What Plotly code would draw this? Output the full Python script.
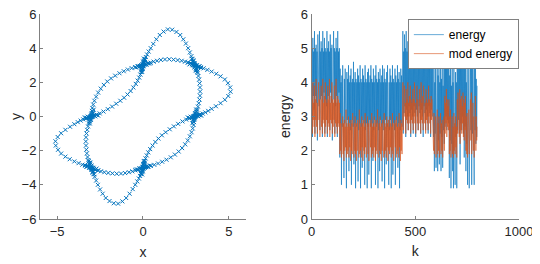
#!/usr/bin/env python3
"""Phase-plane trajectory (left) and energy vs step (right), MATLAB look."""

import plotly.graph_objects as go

BLUE = "#0072BD"
ORANGE = "#D95319"
AXIS_GREY = "#808080"
TEXT = "#262626"
FONT = "Liberation Sans, Arial, sans-serif"

# ---- left panel: trajectory points
top_lobe = [(0.0, 3.0), (0.01, 3.05), (0.03, 3.11), (0.05, 3.18), (0.08, 3.26), (0.12, 3.36),
            (0.17, 3.48), (0.24, 3.63), (0.33, 3.8), (0.45, 4.0), (0.6, 4.25), (0.78, 4.52),
            (0.98, 4.77), (1.2, 4.97), (1.45, 5.1), (1.7, 5.08), (1.95, 4.95), (2.17, 4.77),
            (2.35, 4.52), (2.5, 4.27), (2.63, 4.0), (2.73, 3.75), (2.82, 3.53), (2.88, 3.37),
            (2.93, 3.23), (2.97, 3.12), (2.99, 3.05), (3.0, 3.0)]
right_lobe = [(3.0, 0.0), (3.05, 0.01), (3.11, 0.03), (3.18, 0.05), (3.26, 0.08), (3.36, 0.12),
              (3.48, 0.17), (3.63, 0.24), (3.8, 0.33), (4.0, 0.45), (4.25, 0.6), (4.52, 0.78),
              (4.77, 0.98), (4.97, 1.2), (5.1, 1.45), (5.08, 1.7), (4.95, 1.95), (4.77, 2.17),
              (4.52, 2.35), (4.27, 2.5), (4.0, 2.63), (3.75, 2.73), (3.53, 2.82), (3.37, 2.88),
              (3.23, 2.93), (3.12, 2.97), (3.05, 2.99), (3.0, 3.0)]
bottom_lobe = [(0.0, -3.0), (-0.01, -3.05), (-0.03, -3.11), (-0.05, -3.18), (-0.08, -3.26),
               (-0.12, -3.36), (-0.17, -3.48), (-0.24, -3.63), (-0.33, -3.8), (-0.45, -4.0),
               (-0.6, -4.25), (-0.78, -4.52), (-0.98, -4.77), (-1.2, -4.97), (-1.45, -5.1),
               (-1.7, -5.08), (-1.95, -4.95), (-2.17, -4.77), (-2.35, -4.52), (-2.5, -4.27),
               (-2.63, -4.0), (-2.73, -3.75), (-2.82, -3.53), (-2.88, -3.37), (-2.93, -3.23),
               (-2.97, -3.12), (-2.99, -3.05), (-3.0, -3.0)]
left_lobe = [(-3.0, 0.0), (-3.05, -0.01), (-3.11, -0.03), (-3.18, -0.05), (-3.26, -0.08),
             (-3.36, -0.12), (-3.48, -0.17), (-3.63, -0.24), (-3.8, -0.33), (-4.0, -0.45),
             (-4.25, -0.6), (-4.52, -0.78), (-4.77, -0.98), (-4.97, -1.2), (-5.1, -1.45),
             (-5.08, -1.7), (-4.95, -1.95), (-4.77, -2.17), (-4.52, -2.35), (-4.27, -2.5),
             (-4.0, -2.63), (-3.75, -2.73), (-3.53, -2.82), (-3.37, -2.88), (-3.23, -2.93),
             (-3.12, -2.97), (-3.05, -2.99), (-3.0, -3.0)]
top_arc = [(3.0, 3.0), (2.94, 3.03), (2.86, 3.07), (2.76, 3.11), (2.62, 3.16), (2.45, 3.21),
           (2.25, 3.26), (2.02, 3.3), (1.78, 3.33), (1.53, 3.35), (1.28, 3.34), (1.04, 3.31),
           (0.82, 3.26), (0.62, 3.21), (0.45, 3.15), (0.3, 3.1), (0.18, 3.06), (0.09, 3.03)]
right_arc = [(3.04, 2.92), (3.08, 2.82), (3.13, 2.7), (3.18, 2.55), (3.23, 2.37), (3.27, 2.16),
             (3.3, 1.94), (3.32, 1.7), (3.33, 1.46), (3.32, 1.22), (3.29, 0.99), (3.25, 0.78),
             (3.2, 0.58), (3.15, 0.41), (3.1, 0.27), (3.06, 0.15), (3.03, 0.07)]
bottom_arc = [(-3.0, -3.0), (-2.94, -3.03), (-2.86, -3.07), (-2.76, -3.11), (-2.62, -3.16),
              (-2.45, -3.21), (-2.25, -3.26), (-2.02, -3.3), (-1.78, -3.33), (-1.53, -3.35),
              (-1.28, -3.34), (-1.04, -3.31), (-0.82, -3.26), (-0.62, -3.21), (-0.45, -3.15),
              (-0.3, -3.1), (-0.18, -3.06), (-0.09, -3.03)]
left_arc = [(-3.04, -2.92), (-3.08, -2.82), (-3.13, -2.7), (-3.18, -2.55), (-3.23, -2.37),
            (-3.27, -2.16), (-3.3, -1.94), (-3.32, -1.7), (-3.33, -1.46), (-3.32, -1.22),
            (-3.29, -0.99), (-3.25, -0.78), (-3.2, -0.58), (-3.15, -0.41), (-3.1, -0.27),
            (-3.06, -0.15), (-3.03, -0.07)]
outer_ul = [(-0.08, 2.98), (-0.18, 2.96), (-0.3, 2.93), (-0.46, 2.89), (-0.66, 2.83), (-0.88, 2.75),
            (-1.12, 2.65), (-1.37, 2.53), (-1.62, 2.39), (-1.86, 2.23), (-2.08, 2.05), (-2.28, 1.85),
            (-2.46, 1.63), (-2.61, 1.4), (-2.73, 1.16), (-2.83, 0.92), (-2.9, 0.7), (-2.95, 0.5),
            (-2.98, 0.33), (-2.99, 0.2), (-3.0, 0.09)]
outer_lr = [(0.08, -2.98), (0.18, -2.96), (0.3, -2.93), (0.46, -2.89), (0.66, -2.83), (0.88, -2.75),
            (1.12, -2.65), (1.37, -2.53), (1.62, -2.39), (1.86, -2.23), (2.08, -2.05), (2.28, -1.85),
            (2.46, -1.63), (2.61, -1.4), (2.73, -1.16), (2.83, -0.92), (2.9, -0.7), (2.95, -0.5),
            (2.98, -0.33), (2.99, -0.2), (3.0, -0.09)]
inner_ul = [(-0.01, 2.93), (-0.03, 2.84), (-0.06, 2.73), (-0.1, 2.6), (-0.15, 2.45), (-0.22, 2.28),
            (-0.31, 2.1), (-0.42, 1.91), (-0.56, 1.7), (-0.72, 1.49), (-0.9, 1.29), (-1.1, 1.1),
            (-1.32, 0.92), (-1.56, 0.75), (-1.8, 0.58), (-2.05, 0.43), (-2.3, 0.29), (-2.52, 0.18),
            (-2.7, 0.1), (-2.84, 0.05), (-2.94, 0.02)]
inner_lr = [(0.01, -2.93), (0.03, -2.84), (0.06, -2.73), (0.1, -2.6), (0.15, -2.45), (0.22, -2.28),
            (0.31, -2.1), (0.42, -1.91), (0.56, -1.7), (0.72, -1.49), (0.9, -1.29), (1.1, -1.1),
            (1.32, -0.92), (1.56, -0.75), (1.8, -0.58), (2.05, -0.43), (2.3, -0.29), (2.52, -0.18),
            (2.7, -0.1), (2.84, -0.05), (2.94, -0.02)]

# the trajectory passes each crossing many times: extra points that thicken the X blobs
cross_0p3 = [(-0.05, 2.61), (-0.11, 2.7), (-0.01, 2.78), (-0.07, 2.87), (0.03, 2.95), (-0.03, 3.05),
             (0.07, 3.13), (0.01, 3.22), (0.11, 3.3), (0.05, 3.39),
             (-0.4, 2.87), (-0.3, 2.95), (-0.2, 2.92), (-0.1, 3.0), (0.0, 2.96), (0.1, 3.06),
             (0.2, 3.03), (0.3, 3.13), (0.4, 3.1)]
cross_3p3 = [(2.84, 3.38), (2.94, 3.29), (2.89, 3.21), (3.0, 3.12), (2.95, 3.04), (3.06, 2.95),
             (3.0, 2.87), (3.11, 2.78), (3.06, 2.7), (3.16, 2.62),
             (2.62, 3.16), (2.71, 3.05), (2.79, 3.11), (2.88, 3.0), (2.96, 3.05), (3.05, 2.94),
             (3.13, 3.0), (3.22, 2.89), (3.3, 2.94), (3.38, 2.84)]
cross_3p0 = [(2.61, -0.05), (2.7, -0.11), (2.78, -0.01), (2.87, -0.07), (2.95, 0.03), (3.05, -0.03),
             (3.13, 0.07), (3.22, 0.01), (3.3, 0.11), (3.39, 0.05),
             (2.87, -0.4), (2.95, -0.3), (2.92, -0.2), (3.0, -0.1), (2.96, 0.0), (3.06, 0.1),
             (3.03, 0.2), (3.13, 0.3), (3.1, 0.4)]
cross_0m3 = [(0.05, -2.61), (0.11, -2.7), (0.01, -2.78), (0.07, -2.87), (-0.03, -2.95), (0.03, -3.05),
             (-0.07, -3.13), (-0.01, -3.22), (-0.11, -3.3), (-0.05, -3.39),
             (0.4, -2.87), (0.3, -2.95), (0.2, -2.92), (0.1, -3.0), (0.0, -2.96), (-0.1, -3.06),
             (-0.2, -3.03), (-0.3, -3.13), (-0.4, -3.1)]
cross_m3p0 = [(-2.61, 0.05), (-2.7, 0.11), (-2.78, 0.01), (-2.87, 0.07), (-2.95, -0.03), (-3.05, 0.03),
              (-3.13, -0.07), (-3.22, -0.01), (-3.3, -0.11), (-3.39, -0.05),
              (-2.87, 0.4), (-2.95, 0.3), (-2.92, 0.2), (-3.0, 0.1), (-2.96, 0.0), (-3.06, -0.1),
              (-3.03, -0.2), (-3.13, -0.3), (-3.1, -0.4)]
cross_m3m3 = [(-2.84, -3.38), (-2.94, -3.29), (-2.89, -3.21), (-3.0, -3.12), (-2.95, -3.04),
              (-3.06, -2.95), (-3.0, -2.87), (-3.11, -2.78), (-3.06, -2.7), (-3.16, -2.62),
              (-2.62, -3.16), (-2.71, -3.05), (-2.79, -3.11), (-2.88, -3.0), (-2.96, -3.05),
              (-3.05, -2.94), (-3.13, -3.0), (-3.22, -2.89), (-3.3, -2.94), (-3.38, -2.84)]

segments = [top_lobe, right_lobe, bottom_lobe, left_lobe, top_arc, right_arc, bottom_arc,
            left_arc, outer_ul, outer_lr, inner_ul, inner_lr,
            cross_0p3, cross_3p3, cross_3p0, cross_0m3, cross_m3p0, cross_m3m3]

# ---- right panel: energy per step (sampled every 2nd k)
k_step = 2
energy = [
    # k 0-134
    3.5, 5.0, 2.4, 5.3, 3.6, 4.9, 3.2, 5.5, 2.5, 5.0,
    3.6, 5.1, 3.4, 4.9, 2.3, 5.4, 3.7, 5.0, 3.3, 5.5,
    2.6, 4.9, 3.5, 5.2, 3.6, 5.0, 2.4, 5.5, 3.4, 4.9,
    3.7, 5.3, 2.5, 5.0, 3.5, 4.9, 3.3, 5.5, 2.4, 5.0,
    3.6, 5.2, 3.5, 4.9, 2.6, 5.4, 3.7, 5.0, 3.4, 5.1,
    2.3, 4.9, 3.6, 5.5, 3.5, 5.0, 2.5, 4.9, 3.3, 5.3,
    3.6, 5.0, 2.4, 5.5, 3.5, 4.9, 3.7, 5.0,
    # k 136-436
    1.8, 4.4, 2.8, 4.0, 1.0, 4.2, 2.7, 4.5, 2.9, 4.0,
    1.2, 4.1, 2.8, 4.4, 2.6, 4.0, 0.9, 4.3, 2.9, 4.1,
    2.7, 4.5, 1.4, 4.0, 2.8, 4.2, 2.6, 4.4, 1.0, 4.0,
    2.9, 4.1, 2.7, 4.6, 1.6, 4.0, 2.8, 4.3, 0.9, 4.1,
    2.7, 4.0, 2.9, 4.4, 1.1, 4.2, 2.6, 4.0, 2.8, 4.5,
    0.9, 4.1, 2.7, 4.0, 1.5, 4.4, 2.9, 4.2, 2.8, 4.0,
    1.0, 4.5, 2.6, 4.1, 2.8, 4.0, 0.9, 4.3, 2.7, 4.4,
    1.3, 4.0, 2.9, 4.2, 2.7, 4.5, 0.9, 4.1, 2.8, 4.0,
    1.7, 4.4, 2.6, 4.0, 2.9, 4.2, 1.0, 4.5, 2.7, 4.1,
    2.8, 4.0, 0.9, 4.3, 2.6, 4.1, 1.4, 4.4, 2.9, 4.0,
    2.7, 4.2, 1.1, 4.5, 2.8, 4.0, 2.6, 4.4, 0.9, 4.1,
    2.9, 4.0, 1.6, 4.3, 2.7, 4.5, 2.8, 4.1, 1.0, 4.0,
    2.6, 4.4, 2.9, 4.2, 0.9, 4.0, 2.7, 4.5, 1.3, 4.1,
    2.8, 4.0, 2.6, 4.4, 1.0, 4.2, 2.9, 4.0, 2.7, 4.5,
    1.5, 4.1, 2.8, 4.3, 0.9, 4.0, 2.6, 4.4, 2.8, 4.2,
    2.7,
    # k 438-586
    3.2, 5.5, 2.5, 4.9, 3.1, 5.4, 3.3, 5.0, 2.4, 5.5,
    3.2, 4.9, 3.0, 5.2, 2.6, 4.8, 3.3, 5.0, 3.1, 4.9,
    2.4, 5.1, 3.2, 4.8, 3.0, 5.0, 2.5, 4.9, 3.3, 5.0,
    3.1, 4.8, 2.4, 5.0, 3.2, 4.9, 3.0, 5.1, 2.6, 4.8,
    3.3, 5.0, 3.1, 4.9, 2.5, 5.0, 3.2, 4.8, 3.0, 5.0,
    2.4, 4.9, 3.3, 5.0, 3.1, 4.8, 2.6, 5.0, 3.2, 4.9,
    3.0, 4.8, 2.5, 5.0, 3.3, 4.9, 3.1, 4.8, 2.4, 5.0,
    3.2, 4.9, 3.0, 4.6, 2.6,
    # k 588-798
    2.4, 4.9, 1.4, 4.0, 2.5, 4.5, 1.5, 3.9, 2.6, 4.8,
    1.4, 4.2, 2.3, 4.6, 1.6, 4.0, 2.5, 4.9, 1.4, 4.1,
    2.4, 4.4, 1.5, 3.9, 2.6, 4.7, 2.2,
    5.0, 2.7, 4.8, 3.0, 4.9, 2.6, 5.0, 2.9, 4.7, 2.8, 4.9,
    1.2, 4.2, 2.3, 4.6, 0.9, 3.9, 2.2, 4.4, 1.4, 4.0,
    0.9, 4.5, 2.3, 3.8, 1.0, 4.3, 2.4, 4.0, 0.9,
    4.8, 2.6, 5.0, 2.9, 4.7, 2.5, 4.9, 1.6, 4.8, 2.8,
    5.0, 2.6, 4.6, 3.0, 4.9, 2.5, 5.0, 1.8, 4.8, 2.7, 4.9,
    1.4, 4.0, 2.2, 4.4, 1.0, 3.9, 2.3, 4.5, 0.9, 4.1, 2.4,
    4.9, 2.6, 5.0, 1.0, 4.4, 2.5, 4.8, 2.3, 4.0, 1.0,
    4.6, 2.6, 5.0, 2.2, 4.1, 2.4, 3.9,
]
mod_energy = [
    # k 0-134
    2.8, 3.5, 2.5, 4.0, 2.9, 3.4, 2.7, 3.9, 2.4, 3.5,
    2.9, 4.1, 2.7, 3.4, 2.5, 3.6, 2.8, 4.0, 2.9, 3.5,
    2.4, 3.4, 2.8, 3.9, 2.7, 3.5, 2.5, 4.1, 2.9, 3.4,
    2.8, 3.6, 2.4, 4.0, 2.7, 3.5, 2.9, 3.4, 2.5, 3.9,
    2.8, 3.5, 2.7, 4.1, 2.4, 3.4, 2.9, 3.6, 2.8, 4.0,
    2.5, 3.5, 2.7, 3.4, 2.9, 3.9, 2.4, 3.5, 2.8, 4.1,
    2.7, 3.4, 2.5, 3.6, 2.8, 3.5, 2.7, 3.4,
    # k 136-436
    1.9, 3.1, 2.0, 2.8, 1.8, 2.7, 2.1, 3.0, 1.9, 2.8,
    1.7, 2.9, 2.0, 2.7, 2.1, 3.2, 1.8, 2.8, 1.9, 2.7,
    2.0, 3.0, 1.8, 2.8, 2.1, 2.7, 1.7, 2.9, 2.0, 2.8,
    1.9, 3.1, 2.1, 2.7, 1.8, 2.8, 2.0, 3.0, 1.9, 2.7,
    1.7, 2.8, 2.0, 2.9, 2.1, 2.7, 1.8, 3.2, 1.9, 2.8,
    2.0, 2.7, 1.8, 3.0, 2.1, 2.8, 1.7, 2.9, 2.0, 2.7,
    1.9, 3.1, 2.1, 2.8, 1.8, 2.7, 2.0, 3.0, 1.9, 2.8,
    1.7, 2.7, 2.0, 2.9, 2.1, 2.8, 1.8, 3.1, 1.9, 2.7,
    2.0, 2.8, 1.8, 3.0, 2.1, 2.7, 1.7, 2.9, 2.0, 2.8,
    1.9, 3.2, 2.1, 2.7, 1.8, 2.8, 2.0, 3.0, 1.9, 2.7,
    1.7, 2.8, 2.0, 2.9, 2.1, 2.7, 1.8, 3.1, 1.9, 2.8,
    2.0, 2.7, 1.8, 3.0, 2.1, 2.8, 1.7, 2.9, 2.0, 2.7,
    1.9, 3.0, 2.1, 2.8, 1.8, 2.7, 2.0, 3.1, 1.9, 2.8,
    1.7, 2.7, 2.0, 2.9, 2.1, 2.8, 1.8, 3.0, 1.9, 2.7,
    2.0, 2.8, 1.8, 3.1, 2.1, 2.7, 1.7, 2.9, 2.0, 2.8,
    1.9,
    # k 438-586
    2.9, 4.0, 2.6, 3.5, 2.8, 3.9, 3.0, 3.4, 2.5, 3.8,
    2.9, 3.5, 2.8, 4.0, 2.6, 3.4, 3.0, 3.6, 2.8, 3.9,
    2.5, 3.5, 2.9, 3.4, 2.8, 3.8, 2.6, 3.5, 3.0, 4.0,
    2.8, 3.4, 2.5, 3.6, 2.9, 3.9, 2.8, 3.5, 2.6, 3.4,
    3.0, 3.8, 2.8, 3.5, 2.5, 4.0, 2.9, 3.4, 2.8, 3.6,
    2.6, 3.9, 3.0, 3.5, 2.8, 3.4, 2.5, 3.8, 2.9, 3.5,
    2.8, 3.4, 2.6, 3.9, 3.0, 3.5, 2.8, 3.4, 2.5, 3.6,
    2.9, 3.5, 2.8, 3.3, 2.4,
    # k 588-798
    2.0, 3.1, 1.9, 2.8, 2.2, 3.0, 1.8, 2.7, 2.1, 3.2,
    1.9, 2.8, 2.0, 3.0, 1.8, 2.7, 2.2, 3.1, 1.9, 2.8,
    2.0, 2.9, 1.8, 2.7, 2.1, 3.0, 2.0,
    3.6, 2.5, 3.4, 2.8, 3.8, 2.4, 3.5, 2.7, 3.3, 2.6, 3.5,
    1.9, 3.0, 2.0, 3.2, 1.8, 2.8, 2.1, 3.0, 1.9, 2.7,
    1.8, 3.1, 2.0, 2.8, 1.9, 3.0, 2.1, 2.7, 1.8,
    3.5, 2.5, 3.7, 2.7, 3.4, 2.4, 3.8, 2.2, 3.5, 2.6,
    3.6, 2.5, 3.3, 2.8, 3.7, 2.4, 3.5, 2.3, 3.4, 2.6, 3.6,
    2.0, 3.0, 1.9, 3.1, 1.8, 2.8, 2.0, 3.2, 1.9, 2.9, 2.1,
    3.5, 2.3, 3.7, 1.9, 3.1, 2.2, 3.4, 2.0, 3.0, 1.8,
    3.3, 2.2, 3.6, 2.0, 3.0, 2.3, 2.7,
]
k = list(range(0, k_step * len(energy), k_step))

x_ticks = [-5, 0, 5]
y_ticks = [-6, -4, -2, 0, 2, 4, 6]
k_ticks = [0, 500, 1000]
e_ticks = [0, 1, 2, 3, 4, 5, 6]


def axis_style(**kw):
    base = dict(
        showline=True, linecolor=AXIS_GREY, linewidth=1, mirror=False, automargin=False,
        ticks="inside", ticklen=3, tickcolor=AXIS_GREY, showgrid=False, zeroline=False,
        ticklabeloverflow="allow",
        tickfont=dict(family=FONT, size=13, color=TEXT),
        title_font=dict(family=FONT, size=14, color=TEXT),
    )
    base.update(kw)
    return base


def main():
    xs = [p[0] for seg in segments for p in seg]
    ys = [p[1] for seg in segments for p in seg]

    fig = go.Figure()
    fig.add_trace(go.Scatter(
        x=xs, y=ys, mode="markers", showlegend=False,
        marker=dict(symbol="x-thin-open", size=4, color=BLUE, line=dict(color=BLUE, width=1)),
        xaxis="x", yaxis="y",
    ))
    fig.add_trace(go.Scatter(x=k, y=energy, mode="lines", name="energy",
                             line=dict(color=BLUE, width=0.6), xaxis="x2", yaxis="y2"))
    fig.add_trace(go.Scatter(x=k, y=mod_energy, mode="lines", name="mod energy",
                             line=dict(color=ORANGE, width=0.6), xaxis="x2", yaxis="y2"))

    # page body has an 8px margin, so the figure is offset by 8px inside the window
    fig.update_layout(
        width=532, height=256,
        margin=dict(l=32, r=21, t=6, b=45),
        paper_bgcolor="white", plot_bgcolor="white",
        font=dict(family=FONT, color=TEXT),
        xaxis=axis_style(domain=[0, 0.43], range=[-6, 6], tickvals=x_ticks,
                         title=dict(text="x", standoff=9)),
        yaxis=axis_style(range=[-6, 6], tickvals=y_ticks, title=dict(text="y", standoff=10)),
        xaxis2=axis_style(domain=[0.567, 1], range=[0, 1000], tickvals=k_ticks, anchor="y2",
                          title=dict(text="k", standoff=8)),
        yaxis2=axis_style(range=[0, 6], tickvals=e_ticks, anchor="x2",
                          title=dict(text="energy", standoff=6)),
        legend=dict(x=0.768, y=0.975, xanchor="left", yanchor="top",
                    bgcolor="white", bordercolor=AXIS_GREY, borderwidth=1,
                    font=dict(family=FONT, size=12, color="black"),
                    tracegroupgap=0, itemwidth=30),
    )
    fig.write_html("out.html")


if __name__ == "__main__":
    main()
